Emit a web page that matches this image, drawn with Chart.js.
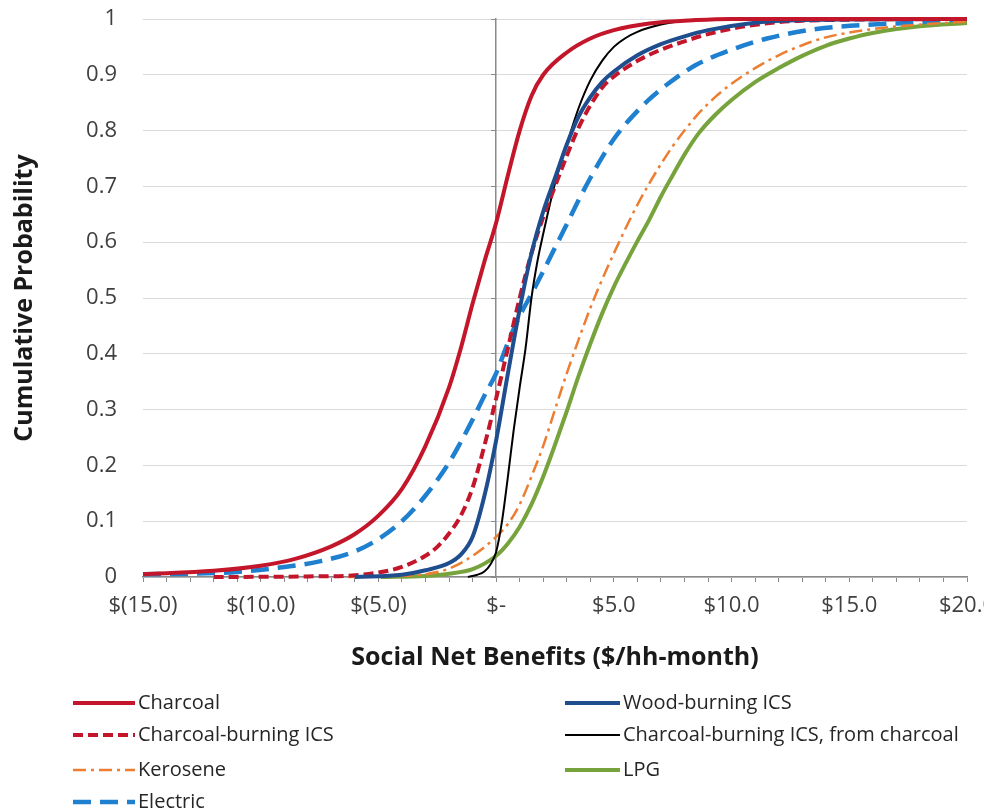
<!DOCTYPE html>
<html>
<head>
<meta charset="utf-8">
<script src="https://cdn.jsdelivr.net/npm/chart.js@4.4.1/dist/chart.umd.min.js"></script>
<style>
  html, body { margin: 0; padding: 0; background: #ffffff; overflow: hidden; }
  #wrap { width: 984px; height: 812px; }
</style>
</head>
<body>
<div id="wrap"><canvas id="c" width="984" height="812"></canvas></div>
<script>
// ---- Data : [x = $/hh-month, y = cumulative probability]
const seriesNames = ["Charcoal", "Wood-burning ICS", "Charcoal-burning ICS", "Charcoal-burning ICS, from charcoal", "Kerosene", "LPG", "Electric"];

const charcoal = [[-15,0.005],[-12,0.011],[-10,0.02],[-8.5,0.033],[-7,0.055],[-6,0.077],[-5,0.11],[-4,0.158],[-3,0.235],[-2,0.34],[-1.5,0.41],[-1,0.49],[-0.5,0.565],[0,0.635],[0.5,0.72],[1,0.8],[1.5,0.862],[2,0.9],[3,0.94],[4,0.965],[5,0.98],[6.5,0.992],[8.5,0.998],[10,1],[20,1]];

const woodIcs = [[-6,0],[-4,0.004],[-3,0.012],[-2,0.025],[-1.5,0.04],[-1,0.072],[-0.5,0.145],[0,0.245],[0.5,0.365],[1,0.48],[1.5,0.58],[2,0.655],[2.5,0.715],[3,0.775],[3.5,0.825],[4,0.86],[4.5,0.887],[5,0.906],[6,0.935],[7,0.955],[8,0.969],[9,0.98],[10.75,0.992],[13,0.998],[20,1]];

const charcoalIcs = [[-12,0],[-8,0.001],[-6,0.003],[-5,0.008],[-4,0.018],[-3,0.038],[-2.5,0.054],[-2,0.078],[-1.5,0.11],[-1,0.16],[-0.5,0.235],[0,0.32],[0.5,0.41],[1,0.5],[1.5,0.58],[2,0.645],[2.5,0.7],[3,0.755],[3.5,0.805],[4,0.845],[4.5,0.877],[5,0.897],[6,0.925],[7,0.945],[8,0.96],[9,0.973],[10.75,0.988],[13,0.997],[20,1]];

const charcoalIcsFromCharcoal = [[-1.2,0],[-0.8,0.004],[-0.5,0.01],[-0.25,0.022],[0,0.045],[0.25,0.1],[0.5,0.18],[0.75,0.265],[1,0.34],[1.25,0.41],[1.5,0.5],[1.75,0.565],[2,0.615],[2.5,0.705],[3,0.775],[3.5,0.84],[4,0.89],[4.5,0.925],[5,0.95],[5.5,0.966],[6,0.977],[7,0.99],[8,0.997],[9,1],[20,1]];

const kerosene = [[-6.3,0],[-4,0.002],[-3,0.005],[-2,0.015],[-1,0.038],[0,0.072],[0.5,0.095],[1,0.13],[1.5,0.18],[2,0.235],[2.5,0.3],[3,0.365],[3.5,0.425],[4,0.482],[4.5,0.533],[5,0.58],[5.5,0.625],[6,0.667],[6.5,0.705],[7,0.74],[7.5,0.772],[8,0.8],[8.5,0.826],[9.3,0.86],[10,0.884],[11,0.912],[12,0.935],[13,0.953],[14,0.967],[16,0.982],[18,0.99],[20,0.995]];

const lpg = [[-4.9,0],[-3,0.002],[-2,0.006],[-1,0.014],[0,0.038],[0.5,0.06],[1,0.09],[1.5,0.13],[2,0.18],[2.5,0.237],[3,0.297],[3.5,0.36],[4,0.418],[4.5,0.472],[5,0.52],[5.5,0.562],[6,0.602],[6.5,0.64],[7,0.682],[7.5,0.72],[8,0.757],[8.6,0.795],[9.3,0.828],[10,0.855],[11,0.887],[12,0.912],[13,0.934],[14,0.952],[15,0.965],[16,0.975],[18,0.987],[20,0.993]];

const electric = [[-15,0.005],[-13,0.006],[-11,0.009],[-9,0.018],[-7.5,0.028],[-6,0.046],[-5,0.068],[-4,0.1],[-3,0.146],[-2,0.205],[-1.5,0.242],[-1,0.282],[-0.5,0.325],[0,0.365],[0.5,0.42],[1,0.468],[1.5,0.507],[2,0.548],[2.5,0.59],[3,0.632],[3.5,0.675],[4,0.715],[4.5,0.752],[5,0.785],[5.5,0.812],[6,0.835],[6.5,0.856],[7.3,0.884],[8.5,0.918],[10,0.945],[11.5,0.965],[13.6,0.982],[16.4,0.991],[20,0.995]];

const xMin = -15, xMax = 20, xStep = 1, xLabelEvery = 5;
const yMin = 0, yMax = 1, yStep = 0.1;

// ---- Styles
const styles = [
  { color: '#C3162B', width: 4,   dash: [] },
  { color: '#1F4E8F', width: 4,   dash: [] },
  { color: '#C3162B', width: 4,   dash: [10, 5] },
  { color: '#000000', width: 2,   dash: [] },
  { color: '#ED7D31', width: 2.5, dash: [13, 5, 3, 5] },
  { color: '#77A33C', width: 4,   dash: [] },
  { color: '#1F80D0', width: 4.5, dash: [18, 9] }
];
const seriesData = [charcoal, woodIcs, charcoalIcs, charcoalIcsFromCharcoal, kerosene, lpg, electric];

const FONT = "'Open Sans', 'DejaVu Sans', sans-serif";
Chart.defaults.font.family = FONT;

const fmtX = v => {
  if (Math.round(v) % xLabelEvery !== 0) return '';
  if (v === 0) return '$-';
  return v < 0 ? '$(' + (-v).toFixed(1) + ')' : '$' + v.toFixed(1);
};

const legendPlugin = {
  id: 'excelLegend',
  afterDraw(chart, args, opts) {
    const ctx = chart.ctx;
    chart.data.datasets.forEach((ds, i) => {
      const col = i % 2, row = Math.floor(i / 2);
      const x0 = opts.colX[col], y = opts.rowY[row], w = opts.sampleW[col];
      ctx.save();
      ctx.strokeStyle = ds.borderColor;
      ctx.lineWidth = ds.borderWidth;
      ctx.setLineDash(ds.borderDash || []);
      ctx.beginPath();
      ctx.moveTo(x0, y);
      ctx.lineTo(x0 + w, y);
      ctx.stroke();
      ctx.setLineDash([]);
      ctx.fillStyle = opts.color;
      ctx.font = opts.font;
      ctx.textBaseline = 'middle';
      ctx.textAlign = 'left';
      ctx.fillText(ds.label, x0 + w + opts.gap, y);
      ctx.restore();
    });
  }
};

new Chart(document.getElementById('c'), {
  type: 'line',
  data: {
    datasets: seriesNames.map((name, i) => ({
      label: name,
      data: seriesData[i].map(p => ({ x: p[0], y: p[1] })),
      borderColor: styles[i].color,
      backgroundColor: styles[i].color,
      borderWidth: styles[i].width,
      borderDash: styles[i].dash,
      pointRadius: 0,
      fill: false,
      cubicInterpolationMode: 'monotone',
      clip: false
    }))
  },
  options: {
    responsive: false,
    animation: false,
    events: [],
    layout: { padding: { left: 10, right: 17, top: 0, bottom: 139 } },
    plugins: {
      legend: { display: false },
      tooltip: { enabled: false },
      excelLegend: {
        colX: [73, 565],
        sampleW: [62, 55],
        rowY: [703, 735, 770, 802],
        gap: 3,
        color: '#262626',
        font: "20px " + FONT
      }
    },
    scales: {
      x: {
        type: 'linear',
        min: xMin, max: xMax,
        ticks: {
          stepSize: xStep, autoSkip: false, maxRotation: 0, minRotation: 0,
          callback: fmtX, color: '#404040', font: { size: 22 }, padding: 11
        },
        grid: { drawOnChartArea: false, drawTicks: true, tickLength: 5, color: '#8a8a8a' },
        border: { display: true, color: '#8a8a8a', width: 1.5 },
        title: {
          display: true, text: 'Social Net Benefits ($/hh-month)',
          color: '#1a1a1a', font: { size: 25, weight: 'bold' }, padding: 0
        },
        afterFit(scale) { scale.height = 96; scale.paddingLeft = 0; scale.paddingRight = 0; }
      },
      y: {
        type: 'linear', position: 'left',
        min: yMin, max: yMax,
        ticks: { stepSize: yStep, color: '#404040', font: { size: 22 }, padding: 26,
                 callback: v => String(+v.toFixed(1)) },
        grid: { color: '#dadada', lineWidth: 1, drawTicks: false },
        border: { display: false },
        title: {
          display: true, text: 'Cumulative Probability',
          color: '#1a1a1a', font: { size: 25, weight: 'bold' }, padding: 0
        },
        afterFit(scale) { scale.width = 133; scale.paddingTop = 19; scale.paddingBottom = 0; }
      },
      y2: {
        type: 'linear', axis: 'y', position: { x: 0 },
        min: yMin, max: yMax,
        ticks: { display: false, stepSize: yStep },
        grid: { drawOnChartArea: false, drawTicks: true, tickLength: 4, color: '#8a8a8a' },
        border: { display: true, color: '#8a8a8a', width: 1.5 }
      }
    }
  },
  plugins: [legendPlugin]
});
</script>
</body>
</html>
